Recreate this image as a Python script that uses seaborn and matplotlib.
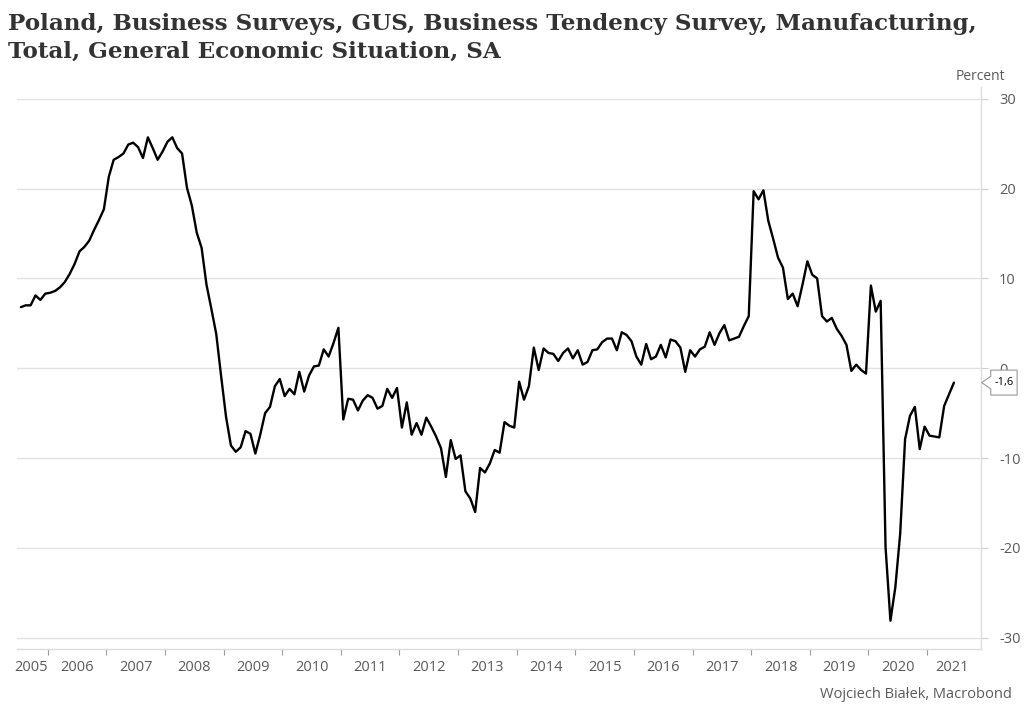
import numpy as np
import pandas as pd
import matplotlib
matplotlib.use("Agg")
import matplotlib.pyplot as plt
import seaborn as sns
from matplotlib.patches import Polygon
from matplotlib.transforms import Affine2D, ScaledTranslation, blended_transform_factory

# ---------------- data ----------------
start_period = "2005-07"
values = [
    6.8, 7.0, 7.0, 8.1, 7.6, 8.3,                      # 2005 H2
    8.4, 8.6, 9.0, 9.6, 10.5, 11.6, 13.0, 13.5, 14.2, 15.4, 16.5, 17.7,   # 2006
    21.3, 23.2, 23.5, 23.9, 24.9, 25.1, 24.6, 23.4, 25.7, 24.5, 23.2, 24.1,  # 2007
    25.2, 25.7, 24.5, 23.9, 20.1, 18.1, 15.1, 13.4, 9.3, 6.6, 3.8, -0.9,  # 2008
    -5.4, -8.6, -9.3, -8.8, -7.0, -7.3, -9.5, -7.4, -5.0, -4.3, -2.0, -1.2,  # 2009
    -3.1, -2.3, -2.9, -0.4, -2.6, -0.8, 0.2, 0.3, 2.1, 1.3, 2.8, 4.5,  # 2010
    -5.7, -3.4, -3.5, -4.7, -3.6, -3.0, -3.3, -4.5, -4.2, -2.3, -3.3, -2.2,  # 2011
    -6.6, -3.8, -7.4, -6.1, -7.4, -5.5, -6.5, -7.6, -8.9, -12.1, -8.0, -10.1,  # 2012
    -9.7, -13.7, -14.5, -16.0, -11.1, -11.6, -10.6, -9.1, -9.4, -6.0, -6.4, -6.6,  # 2013
    -1.5, -3.5, -2.0, 2.3, -0.2, 2.2, 1.7, 1.6, 0.8, 1.7, 2.2, 1.1,  # 2014
    2.0, 0.4, 0.7, 2.0, 2.1, 2.9, 3.3, 3.3, 2.0, 4.0, 3.7, 3.0,  # 2015
    1.3, 0.4, 2.7, 1.0, 1.3, 2.6, 1.2, 3.2, 3.0, 2.3, -0.4, 2.0,  # 2016
    1.3, 2.1, 2.4, 4.0, 2.6, 3.9, 4.8, 3.1, 3.3, 3.5, 4.7, 5.8,  # 2017
    19.7, 18.8, 19.8, 16.4, 14.4, 12.3, 11.2, 7.7, 8.3, 6.9, 9.3, 11.9,  # 2018
    10.4, 10.0, 5.8, 5.2, 5.6, 4.4, 3.6, 2.6, -0.3, 0.4, -0.2, -0.6,  # 2019
    9.2, 6.3, 7.5, -19.9, -28.1, -24.4, -18.4, -7.9, -5.3, -4.3, -9.0, -6.5,  # 2020
    -7.5, -7.6, -7.7, -4.2, -2.9, -1.6,  # 2021 H1
]
year_labels = [str(y) for y in range(2005, 2022)]
y_ticks = [-30, -20, -10, 0, 10, 20, 30]
title = ("Poland, Business Surveys, GUS, Business Tendency Survey, Manufacturing,\n"
         "Total, General Economic Situation, SA")
unit_label = "Percent"
source_label = "Wojciech Białek, Macrobond"

periods = pd.period_range(start_period, periods=len(values), freq="M")
df = pd.DataFrame({
    "t": periods.year + (periods.month - 0.5) / 12.0,
    "value": values,
})

# ---------------- style ----------------
sns.set_theme(style="white")
plt.rcParams["font.family"] = ["Open Sans", "DejaVu Sans"]

W, H = 1024, 717
fig = plt.figure(figsize=(W / 100, H / 100), dpi=100)
fig.patch.set_facecolor("white")
ax = fig.add_axes([17 / W, 1 - 649 / H, (981 - 17) / W, (649 - 87) / H])

sns.lineplot(data=df, x="t", y="value", color="black", linewidth=1.7, ax=ax)

ax.set_xlim(2005.476, 2021.92)
ax.set_ylim(-31.25, 31.3)
ax.set_xlabel("")
ax.set_ylabel("")

# y axis on the right
ax.yaxis.tick_right()
ax.set_yticks(y_ticks)
ax.set_yticklabels([str(v) for v in y_ticks])
ax.tick_params(axis="y", which="major", direction="out", length=5, width=0.8,
               color="#cfcfcf", labelcolor="#5a5a5a", labelsize=10.5, pad=8)
ax.grid(axis="y", color="#e2e2e2", linewidth=1)
ax.grid(axis="x", visible=False)

# x axis: year boundaries as ticks, labels centred between them
years = [int(y) for y in year_labels]
ax.set_xticks(years[1:])
ax.set_xticklabels([])
label_pos = [2005.72] + [y + 0.5 for y in years[1:-1]] + [2021.43]
ax.set_xticks(label_pos, minor=True)
ax.set_xticklabels(year_labels, minor=True)
ax.tick_params(axis="x", which="major", direction="out", length=4, width=0.8,
               color="#9a9a9a", bottom=True)
ax.tick_params(axis="x", which="minor", length=0, labelcolor="#5a5a5a",
               labelsize=10.5, pad=8, bottom=True)

for side in ("left", "top"):
    ax.spines[side].set_visible(False)
for side in ("right", "bottom"):
    ax.spines[side].set_color("#dcdcdc")
    ax.spines[side].set_linewidth(1)

# last-value label with a notch pointing at the axis
last = values[-1]
base = blended_transform_factory(ax.transAxes, ax.transData)
tr = Affine2D().scale(fig.dpi / 72.0) + ScaledTranslation(1.0, last, base)
pts = [(0.5, 0), (7, 4.5), (7, 9), (26, 9), (26, -9), (7, -9), (7, -4.5)]
ax.add_patch(Polygon(pts, closed=True, transform=tr, facecolor="white",
                     edgecolor="#9a9a9a", linewidth=0.8, clip_on=False, zorder=5))
ax.text(16.5, 0, f"{last:.1f}".replace(".", ","), transform=tr, ha="center",
        va="center", fontsize=8, color="black", zorder=6, clip_on=False)

# texts
fig.text(8 / W, 1 - 13 / H, title, ha="left", va="top", fontsize=16.6,
         fontweight="bold", family="DejaVu Serif", color="#333333", linespacing=1.33)
fig.text(1005 / W, 1 - 77 / H, unit_label, ha="right", va="center",
         fontsize=10, color="#5a5a5a")
fig.text(1012 / W, 1 - 695 / H, source_label, ha="right", va="center",
         fontsize=10.5, color="#5a5a5a")

fig.savefig("out.png", dpi=100, facecolor="white")
